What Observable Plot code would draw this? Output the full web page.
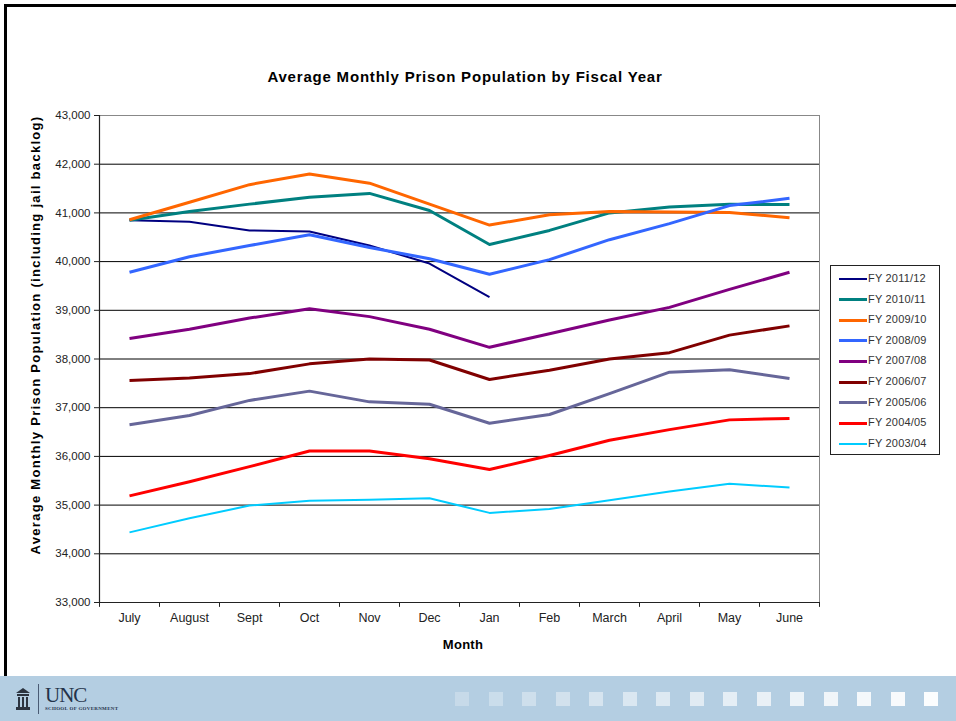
<!DOCTYPE html>
<html>
<head>
<meta charset="utf-8">
<script src="https://cdn.jsdelivr.net/npm/d3@7"></script>
<script src="https://cdn.jsdelivr.net/npm/@observablehq/plot@0.6"></script>
<style>
  html, body { margin: 0; padding: 0; background: #fff; }
  body { width: 956px; height: 721px; position: relative; overflow: hidden; font-family: "Liberation Sans", Arial, sans-serif; }
  .abs { position: absolute; }
  #frameTop { left: 4px; top: 4px; width: 952px; height: 3px; background: #000; }
  #frameLeft { left: 4px; top: 4px; width: 3px; height: 717px; background: #000; }
  #title { left: 0; width: 930px; top: 68px; text-align: center; font-weight: bold; font-size: 15px; letter-spacing: 0.8px; color: #000; }
  #ytitle { left: 35px; top: 335px; transform: translate(-50%, -50%) rotate(-90deg); white-space: nowrap; font-weight: bold; font-size: 13px; letter-spacing: 1.3px; color: #000; }
  #xtitle { left: 463px; top: 644px; transform: translate(-50%, -50%); font-weight: bold; font-size: 13px; letter-spacing: 0.3px; color: #000; }
  #chart { left: 0; top: 100px; }
  #legend { left: 830px; top: 265px; width: 108px; height: 188px; border: 1px solid #222; background: #fff; }
  .item { position: absolute; left: 8px; height: 12px; font-size: 11px; letter-spacing: 0.2px; color: #333; white-space: nowrap; }
  .item span.sw { position: absolute; left: 0; top: 5px; width: 28px; height: 3px; }
  .item span.lb { position: absolute; left: 29px; top: -1px; }
  #footer { left: 0; top: 676px; width: 956px; height: 45px; background: #b4cee2; }
  #unc { left: 45px; top: 685px; line-height: 20px; font-family: "Liberation Serif", "DejaVu Serif", serif; font-size: 21px; color: #24334a; letter-spacing: -1px; }
  #sog { left: 45px; top: 706px; line-height: 6px; font-family: "Liberation Serif", "DejaVu Serif", serif; font-size: 5px; font-weight: bold; color: #24334a; letter-spacing: 0.3px; }
  #sep { left: 38px; top: 684px; width: 1px; height: 30px; background: #4a5b74; }
  #icon { left: 16px; top: 688px; width: 14px; height: 22px; }
  .sq { position: absolute; top: 692px; width: 14px; height: 14px; }
</style>
</head>
<body>
<div id="frameTop" class="abs"></div>
<div id="frameLeft" class="abs"></div>
<div id="title" class="abs">Average Monthly Prison Population by Fiscal Year</div>
<div id="chart" class="abs"></div>
<div id="ytitle" class="abs">Average Monthly Prison Population (including jail backlog)</div>
<div id="xtitle" class="abs">Month</div>
<div id="legend" class="abs"></div>
<div id="footer" class="abs"></div>
<svg id="icon" class="abs" viewBox="0 0 14 22">
  <path d="M7 0 L14 5 L0 5 Z" fill="#2c3440"/>
  <rect x="1" y="6" width="12" height="2" fill="#2c3440"/>
  <rect x="2" y="9" width="2" height="10" fill="#2c3440"/>
  <rect x="6" y="9" width="2" height="10" fill="#2c3440"/>
  <rect x="10" y="9" width="2" height="10" fill="#2c3440"/>
  <rect x="0" y="19" width="14" height="3" fill="#2c3440"/>
</svg>
<div id="sep" class="abs"></div>
<div id="unc" class="abs">UNC</div>
<div id="sog" class="abs">SCHOOL OF GOVERNMENT</div>
<script>
// ---- Data ----
const months = ["July","August","Sept","Oct","Nov","Dec","Jan","Feb","March","April","May","June"];
const yTicks = [33000,34000,35000,36000,37000,38000,39000,40000,41000,42000,43000];
const seriesNames = ["FY 2011/12","FY 2010/11","FY 2009/10","FY 2008/09","FY 2007/08","FY 2006/07","FY 2005/06","FY 2004/05","FY 2003/04"];
const seriesColors = ["#000080","#008080","#FF6600","#3366FF","#800080","#800000","#666699","#FF0000","#00CCFF"];
const seriesWidths = [2, 3, 3, 3, 3, 3, 3, 3, 2];

const fy1112 = [40850,40820,40640,40620,40330,39960,39270];
const fy1011 = [40850,41030,41180,41320,41400,41050,40350,40640,41000,41120,41180,41170];
const fy0910 = [40860,41220,41580,41800,41610,41180,40750,40960,41030,41020,41010,40900];
const fy0809 = [39780,40100,40330,40550,40290,40060,39740,40040,40450,40780,41150,41300];
const fy0708 = [38420,38610,38840,39030,38870,38610,38240,38520,38800,39060,39430,39780];
const fy0607 = [37560,37610,37700,37900,38000,37980,37580,37770,38000,38130,38490,38680];
const fy0506 = [36650,36840,37150,37340,37120,37070,36680,36860,37290,37730,37780,37600];
const fy0405 = [35190,35480,35790,36110,36110,35950,35730,36020,36330,36550,36750,36780];
const fy0304 = [34440,34730,34990,35090,35110,35140,34840,34920,35100,35280,35440,35360];
const seriesValues = [fy1112, fy1011, fy0910, fy0809, fy0708, fy0607, fy0506, fy0405, fy0304];

// ---- Build table ----
const rows = [];
seriesNames.forEach((name, i) => {
  seriesValues[i].forEach((v, j) => rows.push({fy: name, month: months[j], value: v}));
});

const fmt = d3.format(",");
const lineMarks = seriesNames.map((name, i) =>
  Plot.line(rows.filter(r => r.fy === name), {
    x: "month", y: "value",
    stroke: seriesColors[i], strokeWidth: seriesWidths[i],
    strokeLinejoin: "round", strokeLinecap: "butt"
  })
);

const chart = Plot.plot({
  width: 956,
  height: 560,
  marginLeft: 99,
  marginRight: 137,
  marginTop: 15,
  marginBottom: 58,
  style: {fontFamily: "'Liberation Sans', Arial, sans-serif", fontSize: "11px", color: "#222", background: "transparent"},
  x: {type: "point", domain: months, padding: 0.5, label: null},
  y: {domain: [33000, 43000], label: null},
  marks: [
    Plot.ruleY(yTicks, {stroke: "#000", strokeWidth: 1}),
    Plot.frame({stroke: "#888"}),
    Plot.ruleX(months, {x: d => d, dx: -30, y1: 33000, y2: 32900, stroke: "#222"}),
    Plot.ruleX(months.slice(-1), {x: d => d, dx: 30, y1: 33000, y2: 32900, stroke: "#222"}),
    Plot.axisY({ticks: yTicks, tickFormat: fmt, tickSize: 5, tickPadding: 4, label: null, fontSize: 11.5}),
    Plot.axisX({tickSize: 0, tickPadding: 11, label: null, fontSize: 12.5, style: {letterSpacing: "0.4px"}}),
    Plot.ruleY([33000], {stroke: "#222", strokeWidth: 1.2}),
    Plot.ruleX([months[0]], {x: d => d, dx: -30, stroke: "#222", strokeWidth: 1.2}),
    ...lineMarks
  ]
});
document.getElementById("chart").appendChild(chart);

// ---- Legend ----
const legend = document.getElementById("legend");
seriesNames.forEach((name, i) => {
  const item = document.createElement("div");
  item.className = "item";
  item.style.top = (7 + i * 20.6) + "px";
  const sw = document.createElement("span");
  sw.className = "sw";
  sw.style.background = seriesColors[i];
  sw.style.height = seriesWidths[i] + "px";
  sw.style.top = (6 - seriesWidths[i] / 2) + "px";
  const lb = document.createElement("span");
  lb.className = "lb";
  lb.textContent = name;
  item.appendChild(sw); item.appendChild(lb);
  legend.appendChild(item);
});

// ---- Footer squares ----
for (let k = 0; k < 15; k++) {
  const s = document.createElement("div");
  s.className = "sq";
  s.style.left = (455 + k * 33.5) + "px";
  const a = 0.25 + 0.7 * (k / 14);
  s.style.background = `rgba(255,255,255,${a.toFixed(2)})`;
  document.body.appendChild(s);
}
</script>
</body>
</html>
